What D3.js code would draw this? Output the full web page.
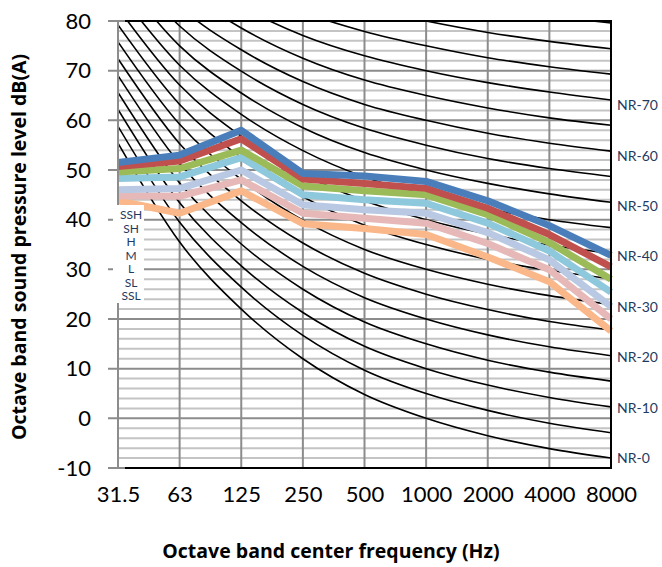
<!DOCTYPE html>
<html>
<head>
<meta charset="utf-8">
<script src="https://cdn.jsdelivr.net/npm/d3@7/dist/d3.min.js"></script>
<style>
  body { margin: 0; background: #fff; }
  svg { display: block; }
</style>
</head>
<body>
<div id="chartDiv"></div>
<script>
// chart data
const freqs = ["31.5", "63", "125", "250", "500", "1000", "2000", "4000", "8000"];
const seriesNames = ["SSH", "SH", "H", "M", "L", "SL", "SSL"];
const seriesColors = ["#4a7ebb", "#c0504d", "#9bbb59", "#8ec8dc", "#b9c9e3", "#e6b9b8", "#fab88a"];
const sshVals = [51.5, 53.0, 58.0, 49.3, 48.8, 47.7, 43.8, 38.8, 32.8];
const shVals  = [50.7, 51.8, 56.3, 48.2, 47.3, 46.3, 42.3, 37.0, 30.5];
const hVals   = [49.6, 50.3, 54.0, 46.8, 45.8, 45.0, 41.0, 35.4, 28.0];
const mVals   = [48.3, 48.6, 52.5, 45.0, 44.0, 43.3, 39.3, 33.7, 25.4];
const lVals   = [46.0, 46.3, 50.0, 43.0, 42.0, 41.3, 37.4, 31.9, 22.5];
const slVals  = [44.8, 44.7, 48.0, 41.3, 40.3, 39.3, 35.2, 29.9, 20.0];
const sslVals = [43.8, 41.3, 45.8, 39.2, 38.2, 37.0, 32.5, 27.5, 17.6];

// noise rating curves NR-0 .. NR-85 (dB per octave band)
const nrLevels = [0, 5, 10, 15, 20, 25, 30, 35, 40, 45, 50, 55, 60, 65, 70, 75, 80, 85];
const nrCurves = [
  [55.4, 35.5, 22.0, 12.0, 4.8, 0, -3.5, -6.1, -8.0],
  [58.8, 39.5, 26.4, 16.7, 9.7, 5, 1.6, -1.0, -2.9],
  [62.2, 43.4, 30.7, 21.3, 14.5, 10, 6.7, 4.2, 2.3],
  [65.6, 47.4, 35.1, 26.0, 19.4, 15, 11.7, 9.3, 7.5],
  [69.0, 51.3, 39.4, 30.6, 24.3, 20, 16.8, 14.4, 12.6],
  [72.4, 55.3, 43.8, 35.3, 29.2, 25, 21.9, 19.5, 17.8],
  [75.8, 59.2, 48.1, 39.9, 34.0, 30, 27.0, 24.7, 22.9],
  [79.2, 63.2, 52.5, 44.6, 38.9, 35, 32.0, 29.8, 28.1],
  [82.6, 67.1, 56.8, 49.2, 43.8, 40, 37.1, 34.9, 33.2],
  [86.0, 71.1, 61.2, 53.9, 48.6, 45, 42.2, 40.0, 38.4],
  [89.5, 75.0, 65.5, 58.5, 53.5, 50, 47.3, 45.2, 43.5],
  [92.9, 79.0, 69.9, 63.2, 58.4, 55, 52.3, 50.3, 48.7],
  [96.3, 82.9, 74.2, 67.8, 63.2, 60, 57.4, 55.4, 53.8],
  [99.7, 86.9, 78.6, 72.5, 68.1, 65, 62.5, 60.5, 59.0],
  [103.1, 90.8, 82.9, 77.1, 73.0, 70, 67.6, 65.7, 64.1],
  [106.5, 94.8, 87.3, 81.8, 77.9, 75, 72.6, 70.8, 69.3],
  [109.9, 98.7, 91.6, 86.4, 82.7, 80, 77.7, 75.9, 74.4],
  [113.3, 102.7, 96.0, 91.1, 87.6, 85, 82.8, 81.0, 79.6]
];
const nrLabels = ["NR-0", "NR-10", "NR-20", "NR-30", "NR-40", "NR-50", "NR-60", "NR-70"];
const nrLabelValues = [-8, 2.1, 12.3, 22.4, 32.6, 42.7, 52.8, 63.0];
const yTicks = [-10, 0, 10, 20, 30, 40, 50, 60, 70, 80];

const seriesVals = [sshVals, shVals, hVals, mVals, lVals, slVals, sslVals];

// set the dimensions of the graph
const W = 662, H = 567;
const plot = { left: 118, right: 611, top: 21, bottom: 468 };

const svg = d3.select("#chartDiv")
    .append("svg")
    .attr("width", W)
    .attr("height", H);

const x = d3.scalePoint()
    .domain(freqs)
    .range([plot.left, plot.right]);

const y = d3.scaleLinear()
    .domain([-10, 80])
    .range([plot.bottom, plot.top]);

// clip for the curves
svg.append("clipPath").attr("id", "plotClip")
    .append("rect")
    .attr("x", plot.left)
    .attr("y", plot.top)
    .attr("width", plot.right - plot.left)
    .attr("height", plot.bottom - plot.top);

// minor horizontal grid every 2 dB
svg.append("g")
    .selectAll("line")
    .data(d3.range(-10, 81, 2).filter(v => v % 10 !== 0))
    .join("line")
    .attr("x1", plot.left).attr("x2", plot.right)
    .attr("y1", d => y(d)).attr("y2", d => y(d))
    .style("stroke", "#c4c4c4")
    .style("stroke-width", 2);

// major horizontal grid
svg.append("g")
    .selectAll("line")
    .data(yTicks)
    .join("line")
    .attr("x1", plot.left - 10).attr("x2", plot.right)
    .attr("y1", d => y(d)).attr("y2", d => y(d))
    .style("stroke", "#8c8c8c")
    .style("stroke-width", 2);

// vertical grid
svg.append("g")
    .selectAll("line")
    .data(freqs)
    .join("line")
    .attr("x1", d => x(d)).attr("x2", d => x(d))
    .attr("y1", plot.top).attr("y2", plot.bottom)
    .style("stroke", "#8c8c8c")
    .style("stroke-width", 2);

// NR curves
const nrLine = d3.line()
    .x((d, i) => x(freqs[i]))
    .y(d => y(d))
    .curve(d3.curveCatmullRom.alpha(0));

svg.append("g")
    .attr("clip-path", "url(#plotClip)")
    .selectAll("path")
    .data(nrCurves)
    .join("path")
    .attr("d", d => nrLine(d))
    .style("fill", "none")
    .style("stroke", "#000")
    .style("stroke-width", 1.6);

// series lines
const sLine = d3.line()
    .x((d, i) => x(freqs[i]))
    .y(d => y(d));

svg.append("g")
    .selectAll("path")
    .data(seriesVals.slice().reverse())
    .join("path")
    .attr("d", d => sLine(d))
    .style("fill", "none")
    .style("stroke", (d, i) => seriesColors[seriesColors.length - 1 - i])
    .style("stroke-width", 7)
    .style("stroke-linejoin", "round");

// legend box
svg.append("rect")
    .attr("x", 113).attr("y", 205)
    .attr("width", 31).attr("height", 98)
    .style("fill", "#fff");

svg.append("g")
    .selectAll("text")
    .data(seriesNames)
    .join("text")
    .attr("x", 131)
    .attr("y", (d, i) => 219 + i * 13.5)
    .attr("text-anchor", "middle")
    .style("font-family", "Lato, sans-serif")
    .style("font-size", "12px")
    .style("fill", "#1f3a60")
    .text(d => d);

// left axis line
svg.append("line")
    .attr("x1", plot.left).attr("x2", plot.left)
    .attr("y1", plot.top).attr("y2", 205)
    .style("stroke", "#8c8c8c").style("stroke-width", 2);
svg.append("line")
    .attr("x1", plot.left).attr("x2", plot.left)
    .attr("y1", 303).attr("y2", plot.bottom)
    .style("stroke", "#8c8c8c").style("stroke-width", 2);

// black frame
svg.append("path")
    .attr("d", `M${plot.left + 7},${plot.top}H${plot.right}V${plot.bottom}H${plot.left + 7}`)
    .style("fill", "none")
    .style("stroke", "#000")
    .style("stroke-width", 2);

// y axis labels
const yAxis = svg.append("g")
    .attr("transform", "translate(" + plot.left + ",0)")
    .call(d3.axisLeft(y).tickValues(yTicks).tickSize(10).tickPadding(17)
        .tickFormat(d => String(d)));
yAxis.select(".domain").remove();
yAxis.selectAll("line").remove();
yAxis.selectAll("text")
    .style("font-family", "Lato, sans-serif")
    .style("font-size", "22px")
    .style("fill", "#000");

// x axis labels
const xAxis = svg.append("g")
    .attr("transform", "translate(0," + plot.bottom + ")")
    .call(d3.axisBottom(x).tickSize(0).tickPadding(18));
xAxis.select(".domain").remove();
xAxis.selectAll("text")
    .style("font-family", "Lato, sans-serif")
    .style("font-size", "22px")
    .style("fill", "#000");

// NR labels
svg.append("g")
    .selectAll("text")
    .data(nrLabels)
    .join("text")
    .attr("x", 617)
    .attr("y", (d, i) => y(nrLabelValues[i]))
    .attr("dy", "0.35em")
    .style("font-family", "Lato, sans-serif")
    .style("font-size", "14px")
    .style("fill", "#1f3a60")
    .text(d => d);

// axis titles
svg.append("text")
    .attr("transform", "translate(19,247) rotate(-90)")
    .attr("text-anchor", "middle")
    .attr("dy", "0.35em")
    .style("font-family", "'Open Sans', sans-serif")
    .style("font-weight", "bold")
    .style("font-size", "19.5px")
    .text("Octave band sound pressure level dB(A)");

svg.append("text")
    .attr("x", 331)
    .attr("y", 558)
    .attr("text-anchor", "middle")
    .style("font-family", "'Open Sans', sans-serif")
    .style("font-weight", "bold")
    .style("font-size", "19.5px")
    .text("Octave band center frequency (Hz)");
</script>
</body>
</html>
